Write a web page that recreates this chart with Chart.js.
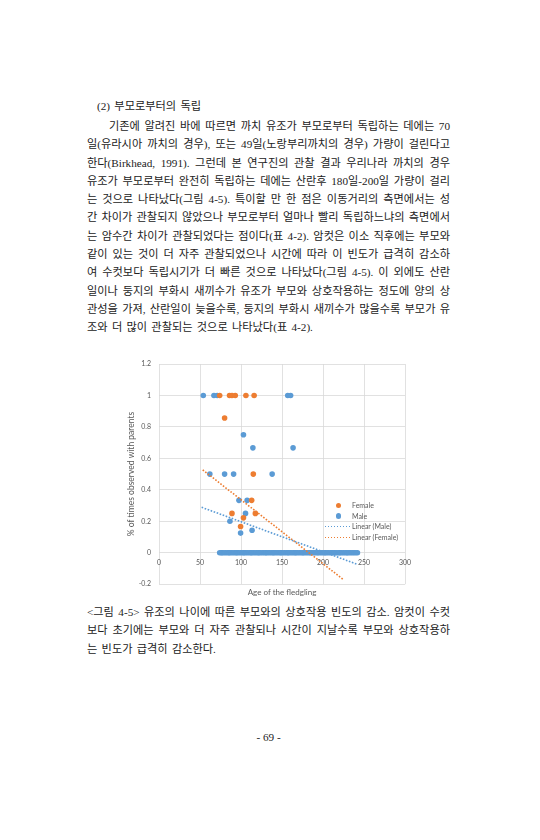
<!DOCTYPE html>
<html lang="ko">
<head>
<meta charset="UTF-8">
<title>그림 4-5</title>
<script src="https://cdn.jsdelivr.net/npm/chart.js"></script>
<style>
    body { margin: 0; background: #fff; }
    .page { position: relative; width: 540px; height: 840px; font-family: "Liberation Serif", "Noto Sans CJK KR", serif; font-size: 11.2px; color: #222; }
    .blk { position: absolute; left: 87px; width: 363px; line-height: 18.3px; }
    .blk div { white-space: nowrap; }
    .blk .w { word-spacing: 1.5px; }
    .blk .j { white-space: normal; text-align: justify; text-align-last: justify; }
    #chartBox { position: absolute; left: 110px; top: 350px; width: 310px; height: 252px; }
    .legend { position: absolute; left: 322px; top: 500px; font-family: Lato, sans-serif; font-size: 7px; color: #595959; }
    .legend div { position: relative; height: 10.7px; line-height: 10.7px; padding-left: 30px; }
    .legend .dot { position: absolute; left: 13.5px; top: 2.6px; width: 5.6px; height: 5.6px; border-radius: 50%; }
    .legend .dash { position: absolute; left: 3px; top: 4.6px; width: 25px; height: 1.5px; }
</style>
</head>
<body>
<div class="page">
    <div class="blk" style="top: 97px; left: 97px;"><div class="w">(2) 부모로부터의 독립</div></div>

    <div class="blk" style="top: 117px;">
        <div class="j" style="padding-left: 22px;">기존에 알려진 바에 따르면 까치 유조가 부모로부터 독립하는 데에는 70</div>
        <div class="j">일(유라시아 까치의 경우), 또는 49일(노랑부리까치의 경우) 가량이 걸린다고</div>
        <div class="j">한다(Birkhead, 1991). 그런데 본 연구진의 관찰 결과 우리나라 까치의 경우</div>
        <div class="j">유조가 부모로부터 완전히 독립하는 데에는 산란후 180일-200일 가량이 걸리</div>
        <div class="j">는 것으로 나타났다(그림 4-5). 특이할 만 한 점은 이동거리의 측면에서는 성</div>
        <div class="j">간 차이가 관찰되지 않았으나 부모로부터 얼마나 빨리 독립하느냐의 측면에서</div>
        <div class="j">는 암수간 차이가 관찰되었다는 점이다(표 4-2). 암컷은 이소 직후에는 부모와</div>
        <div class="j">같이 있는 것이 더 자주 관찰되었으나 시간에 따라 이 빈도가 급격히 감소하</div>
        <div class="j">여 수컷보다 독립시기가 더 빠른 것으로 나타났다(그림 4-5). 이 외에도 산란</div>
        <div class="j">일이나 둥지의 부화시 새끼수가 유조가 부모와 상호작용하는 정도에 양의 상</div>
        <div class="j">관성을 가져, 산란일이 늦을수록, 둥지의 부화시 새끼수가 많을수록 부모가 유</div>
        <div class="w">조와 더 많이 관찰되는 것으로 나타났다(표 4-2).</div>
    </div>

    <div id="chartBox"><canvas id="fledglingChart"></canvas></div>

    <div class="legend">
        <div><span class="dot" style="background:#ED7D31"></span>Female</div>
        <div><span class="dot" style="background:#5B9BD5"></span>Male</div>
        <div><span class="dash" style="background:repeating-linear-gradient(90deg,#5B9BD5 0 1.5px,transparent 1.5px 3px)"></span>Linear (Male)</div>
        <div><span class="dash" style="background:repeating-linear-gradient(90deg,#ED7D31 0 1.5px,transparent 1.5px 3px)"></span>Linear (Female)</div>
    </div>

    <div class="blk" style="top: 603px;">
        <div class="j">&lt;그림 4-5&gt; 유조의 나이에 따른 부모와의 상호작용 빈도의 감소. 암컷이 수컷</div>
        <div class="j">보다 초기에는 부모와 더 자주 관찰되나 시간이 지날수록 부모와 상호작용하</div>
        <div class="w">는 빈도가 급격히 감소한다.</div>
    </div>

    <div class="blk" style="top: 728px; text-align: center;"><div>- 69 -</div></div>
</div>

<script>
    // fledgling age (days) vs share of observations with parents
    const femaleAge  = [74, 86, 89, 93, 106, 116, 80, 115, 113, 89, 117.5, 103, 99.5];
    const femaleRate = [1, 1, 1, 1, 1, 1, 0.857, 0.5, 0.333, 0.25, 0.25, 0.222, 0.167];

    const maleAge  = [54, 67, 71, 157, 160.5, 103, 114.5, 163.5, 62, 80, 91, 138, 97.5, 107.5, 105.5, 86.5, 113.5, 99.5];
    const maleRate = [1, 1, 1, 1, 1, 0.75, 0.667, 0.667, 0.5, 0.5, 0.5, 0.5, 0.333, 0.333, 0.25, 0.2, 0.143, 0.125];

    // males never seen with parents (rate 0)
    const maleZeroAge = [74, 76, 77, 79, 81, 83, 85, 86, 88, 90, 92, 94, 95, 97, 99, 101, 103, 104, 106, 108,
        110, 112, 113, 115, 117, 119, 121, 122, 124, 126, 128, 130, 131, 133, 135, 137, 139, 140, 142, 144,
        146, 148, 149, 151, 153, 155, 157, 158, 160, 162, 164, 166, 167, 169, 171, 173, 175, 176, 178, 180,
        182, 184, 185, 187, 189, 191, 193, 194, 196, 198, 200, 202, 203, 205, 207, 209, 211, 212, 214, 216,
        218, 220, 221, 223, 225, 227, 229, 230, 232, 234, 236, 238, 240, 242];

    // Excel linear trendlines, end points
    const maleTrendAge = [52, 241];
    const maleTrendRate = [0.289, -0.072];
    const femaleTrendAge = [53.3, 225.6];
    const femaleTrendRate = [0.527, -0.174];

    const xTicks = [0, 50, 100, 150, 200, 250, 300];
    const yTicks = [-0.2, 0, 0.2, 0.4, 0.6, 0.8, 1, 1.2];

    const toPts = (xs, ys) => xs.map((x, i) => ({ x: x, y: ys[i] }));
    const zeroPts = maleZeroAge.map(x => ({ x: x, y: 0 }));

    const blue = '#5B9BD5', orange = '#ED7D31', grid = '#D9D9D9', txt = '#595959';

    new Chart(document.getElementById('fledglingChart'), {
        type: 'scatter',
        data: {
            datasets: [
                {
                    label: 'Linear (Male)', type: 'line', data: toPts(maleTrendAge, maleTrendRate),
                    borderColor: blue, borderWidth: 1.6, borderDash: [1.6, 1.6], pointRadius: 0, order: 0
                },
                {
                    label: 'Linear (Female)', type: 'line', data: toPts(femaleTrendAge, femaleTrendRate),
                    borderColor: orange, borderWidth: 1.6, borderDash: [1.6, 1.6], pointRadius: 0, order: 0
                },
                {
                    label: 'Female', data: toPts(femaleAge, femaleRate),
                    backgroundColor: orange, borderColor: orange, borderWidth: 0, pointRadius: 2.8, order: 1
                },
                {
                    label: 'Male', data: toPts(maleAge, maleRate).concat(zeroPts),
                    backgroundColor: blue, borderColor: blue, borderWidth: 0, pointRadius: 2.8, order: 2
                }
            ]
        },
        options: {
            responsive: true,
            maintainAspectRatio: false,
            animation: false,
            layout: { padding: { top: 14, right: 15, left: 0, bottom: 0 } },
            plugins: {
                legend: { display: false },
                tooltip: { enabled: false },
                title: {
                    display: true, position: 'bottom', fullSize: false,
                    text: 'Age of the fledgling', color: txt,
                    font: { family: 'Lato', size: 8, weight: 'normal' },
                    padding: { top: 3.2, bottom: 5 }
                }
            },
            scales: {
                x: {
                    type: 'linear', position: { y: 0 }, min: 0, max: 300,
                    afterBuildTicks: s => { s.ticks = xTicks.map(v => ({ value: v })); },
                    grid: { color: grid, lineWidth: 0.8, drawTicks: false },
                    border: { display: false },
                    ticks: { color: txt, font: { family: 'Lato', size: 7 }, padding: 6, callback: v => String(v) }
                },
                y: {
                    type: 'linear', min: -0.2, max: 1.2,
                    afterBuildTicks: s => { s.ticks = yTicks.map(v => ({ value: v })); },
                    afterFit: s => { s.width = 49; },
                    grid: { color: grid, lineWidth: 0.8, drawTicks: false },
                    border: { display: false },
                    ticks: { color: txt, font: { family: 'Lato', size: 7 }, padding: 8, callback: v => String(v) },
                    title: {
                        display: true, text: '% of times observed with parents', color: txt,
                        font: { family: 'Lato', size: 8.5 }, padding: { top: 16.4, bottom: 0 }
                    }
                }
            }
        }
    });
</script>
</body>
</html>
